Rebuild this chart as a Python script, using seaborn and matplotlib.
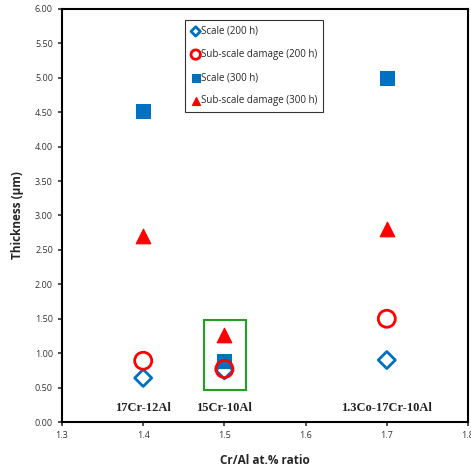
import matplotlib
matplotlib.use("Agg")
import matplotlib.pyplot as plt
import seaborn as sns
import pandas as pd
from matplotlib.patches import Rectangle

sns.set_style("ticks")
plt.rcParams['font.family'] = ['Open Sans', 'DejaVu Sans']

ratio = [1.4, 1.5, 1.7]
scale_200 = [0.64, 0.75, 0.90]
subscale_200 = [0.89, 0.77, 1.50]
scale_300 = [4.52, 0.88, 5.00]
subscale_300 = [2.70, 1.26, 2.81]
alloys = ["17Cr-12Al", "15Cr-10Al", "1.3Co-17Cr-10Al"]
xticks = [1.3, 1.4, 1.5, 1.6, 1.7, 1.8]
yticks = [0, 0.5, 1, 1.5, 2, 2.5, 3, 3.5, 4, 4.5, 5, 5.5, 6]

blue = "#0070C0"
red = "#FF0000"

df = pd.DataFrame({"ratio": ratio, "s200": scale_200, "ss200": subscale_200,
                   "s300": scale_300, "ss300": subscale_300})

fig = plt.figure(figsize=(4.71, 4.73), dpi=100)
ax = fig.add_axes([62/471, 1-422/473, (468-62)/471, (422-9)/473])

sns.scatterplot(data=df, x="ratio", y="s200", marker="D", s=75, facecolor="none",
                edgecolor=blue, linewidth=2, ax=ax, label="Scale (200 h)", zorder=3)
sns.scatterplot(data=df, x="ratio", y="ss200", marker="o", s=150, facecolor="none",
                edgecolor=red, linewidth=2, ax=ax, label="Sub-scale damage (200 h)", zorder=4)
sns.scatterplot(data=df, x="ratio", y="s300", marker="s", s=90, color=blue,
                edgecolor=blue, ax=ax, label="Scale (300 h)", zorder=3)
sns.scatterplot(data=df, x="ratio", y="ss300", marker="^", s=110, color=red,
                edgecolor=red, ax=ax, label="Sub-scale damage (300 h)", zorder=3)

ax.set_xlim(1.3, 1.8)
ax.set_ylim(0, 6)
ax.set_xticks(xticks)
ax.set_xticklabels([f"{v:.1f}" for v in xticks])
ax.set_yticks(yticks)
ax.set_yticklabels([f"{v:.2f}" for v in yticks])
ax.tick_params(labelsize=6.5, colors="#333333", length=3, width=1.2)
for sp in ax.spines.values():
    sp.set_linewidth(1.5)
    sp.set_color("black")

ax.set_xlabel("Cr/Al at.% ratio", fontsize=8.5, fontweight="bold", labelpad=10)
ax.set_ylabel("Thickness (µm)", fontsize=8.5, fontweight="bold", labelpad=8)

for xv, name in zip(ratio, alloys):
    ax.text(xv, 0.2, name, ha="center", va="center", fontsize=9,
            family=["Liberation Serif"], fontweight="bold", color="#222222")

ax.add_patch(Rectangle((1.4745, 0.47), 0.052, 1.01, fill=False,
                       edgecolor="#22A022", linewidth=1.5, zorder=5))

leg = ax.legend(loc="upper left", bbox_to_anchor=(0.303, 0.973), fontsize=7,
                frameon=True, fancybox=False, edgecolor="black", handletextpad=0.0,
                labelspacing=1.25, borderpad=0.6, handlelength=1.0, markerscale=0.55,
                borderaxespad=0)
leg.get_frame().set_linewidth(0.8)

fig.savefig("out.png", dpi=100)
